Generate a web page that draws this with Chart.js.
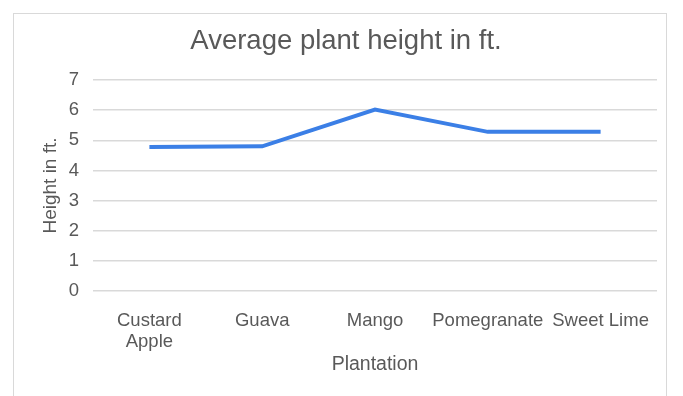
<!DOCTYPE html>
<html>
<head>
<meta charset="utf-8">
<script src="https://cdn.jsdelivr.net/npm/chart.js@4"></script>
<style>
    html, body { margin: 0; padding: 0; background: #fff; }
    #wrap { position: relative; width: 683px; height: 396px; overflow: hidden; }
    #frame {
        position: absolute; left: 13px; top: 13px; width: 654px; height: 400px;
        border: 1px solid #d9d9d9; box-sizing: border-box;
    }
    canvas { position: absolute; left: 0; top: 0; }
</style>
</head>
<body>
<div id="wrap">
    <div id="frame"></div>
    <canvas id="chart" width="683" height="396"></canvas>
</div>
<script>
// Données du graphique
const categories = [['Custard', 'Apple'], 'Guava', 'Mango', 'Pomegranate', 'Sweet Lime'];
const heights = [4.78, 4.8, 6.02, 5.28, 5.28];
const yTicks = [0, 1, 2, 3, 4, 5, 6, 7];

const textColor = '#595959';
const fontFamily = '"Liberation Sans", Arial, sans-serif';

const ctx = document.getElementById('chart').getContext('2d');
new Chart(ctx, {
    type: 'line',
    data: {
        labels: categories,
        datasets: [{
            label: 'Height',
            data: heights,
            borderColor: '#3b7fe6',
            borderWidth: 4,
            pointRadius: 0,
            tension: 0,
            fill: false
        }]
    },
    options: {
        responsive: false,
        animation: false,
        layout: { padding: { left: 35, right: 26, top: 0, bottom: 0 } },
        plugins: {
            legend: { display: false },
            tooltip: { enabled: false },
            title: {
                display: true,
                text: 'Average plant height in ft.',
                color: textColor,
                font: { family: fontFamily, size: 27.5, weight: 'normal', lineHeight: 1.2 },
                padding: { top: 25, bottom: 22 }
            }
        },
        scales: {
            x: {
                offset: true,
                grid: { display: false },
                border: { display: false },
                ticks: {
                    color: textColor,
                    font: { family: fontFamily, size: 18.5, lineHeight: 1.15 },
                    padding: 11,
                    maxRotation: 0,
                    autoSkip: false
                },
                title: {
                    display: true,
                    text: 'Plantation',
                    color: textColor,
                    font: { family: fontFamily, size: 19.5 },
                    padding: { top: 0, bottom: 20 }
                },
                afterFit: (scale) => { scale.height = 105; }
            },
            y: {
                min: yTicks[0],
                max: yTicks[yTicks.length - 1],
                grid: { color: '#d9d9d9', lineWidth: 1.5, drawTicks: false },
                border: { display: false },
                afterBuildTicks: (scale) => { scale.ticks = yTicks.map(v => ({ value: v })); },
                ticks: {
                    color: textColor,
                    font: { family: fontFamily, size: 18.5 },
                    padding: 14
                },
                title: {
                    display: true,
                    text: 'Height in ft.',
                    color: textColor,
                    font: { family: fontFamily, size: 19 },
                    padding: { top: 4, bottom: 0 }
                },
                afterFit: (scale) => { scale.width = 58; }
            }
        }
    }
});
</script>
</body>
</html>
